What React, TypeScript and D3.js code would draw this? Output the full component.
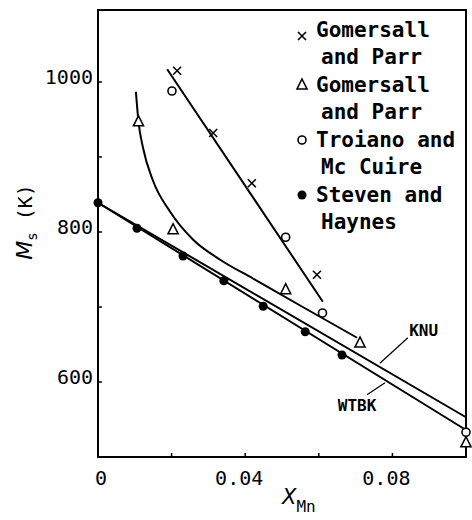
import React, { useEffect, useRef } from 'react';
import * as d3 from 'd3';

// Gomersall and Parr (crosses)
const crossX = [0.0215, 0.0313, 0.0418, 0.0595];
const crossY = [1015, 932, 865, 743];
// Gomersall and Parr (triangles)
const triX = [0.011, 0.0204, 0.051, 0.0712, 0.1];
const triY = [947, 803, 723, 652, 519];
// Troiano and Mc Cuire
const circX = [0.0201, 0.051, 0.061, 0.1];
const circY = [988, 793, 692, 533];
// Steven and Haynes
const dotX = [0, 0.0106, 0.0231, 0.0342, 0.0449, 0.0563, 0.0663];
const dotY = [839, 805, 768, 735, 701, 667, 636];

// fitted lines
const steepX = [0.0188, 0.0611];
const steepY = [1017, 707];
const curveX = [0.0103, 0.011, 0.0122, 0.0149, 0.0196, 0.0258, 0.0332, 0.0421, 0.056, 0.0704];
const curveY = [987, 947, 913, 869, 827, 790, 763, 738, 699, 659];
const knuX = [0, 0.1];
const knuY = [839, 553];
const wtbkX = [0, 0.1];
const wtbkY = [839, 536];

const xTicks = [0.02, 0.04, 0.06, 0.08];
const xLabels = ['0', '0.04', '0.08'];
const yTicks = [600, 700, 800, 900, 1000];
const yLabels = ['600', '800', '1000'];

const legendSymbols = ['cross', 'tri', 'circ', 'dot'];
const legendLines = [
  ['Gomersall', 'and Parr'],
  ['Gomersall', 'and Parr'],
  ['Troiano and', 'Mc Cuire'],
  ['Steven and', 'Haynes'],
];

const zip = (xs: number[], ys: number[]) => xs.map((x, i) => [x, ys[i]] as [number, number]);

export default function App() {
  const svgRef = useRef<SVGSVGElement>(null);

  useEffect(() => {
    const svg = d3.select(svgRef.current);
    svg.selectAll('*').remove();

    const left = 98, right = 466, top = 10, bottom = 457;
    const x = d3.scaleLinear().domain([0, 0.1]).range([left, right]);
    const y = d3.scaleLinear().domain([500, 1096]).range([bottom, top]);

    const mono = "'DejaVu Sans Mono', monospace";

    // frame
    svg.append('rect')
      .attr('x', left).attr('y', top)
      .attr('width', right - left).attr('height', bottom - top)
      .attr('fill', 'none').attr('stroke', '#000').attr('stroke-width', 2);

    // inward ticks
    svg.selectAll('.xt').data(xTicks).join('line')
      .attr('x1', d => x(d)).attr('x2', d => x(d))
      .attr('y1', bottom).attr('y2', bottom - 4)
      .attr('stroke', '#000').attr('stroke-width', 1.5);
    svg.selectAll('.yt').data(yTicks).join('line')
      .attr('x1', left).attr('x2', left + 4)
      .attr('y1', d => y(d)).attr('y2', d => y(d))
      .attr('stroke', '#000').attr('stroke-width', 1.5);

    svg.selectAll('.xl').data(xLabels).join('text')
      .attr('x', d => x(+d) + (d === '0' ? 3 : -6))
      .attr('y', 485)
      .attr('text-anchor', 'middle')
      .attr('font-family', mono).attr('font-size', 20)
      .text(d => d);
    svg.selectAll('.yl').data(yLabels).join('text')
      .attr('x', 93)
      .attr('y', d => y(+d) + 2)
      .attr('text-anchor', 'end')
      .attr('font-family', mono).attr('font-size', 20)
      .text(d => d);

    // axis titles
    const yt = svg.append('text')
      .attr('transform', 'translate(32,222) rotate(-90)')
      .attr('text-anchor', 'middle')
      .attr('font-family', mono).attr('font-size', 20);
    yt.append('tspan').attr('font-style', 'italic').attr('font-size', 22).attr('font-family', "'DejaVu Sans', sans-serif").text('M');
    yt.append('tspan').attr('font-size', 14).attr('dy', 5).text('s');
    yt.append('tspan').attr('dy', -5).text(' (K)');

    const xt = svg.append('text')
      .attr('x', 282).attr('y', 504)
      .attr('font-family', mono).attr('font-size', 21);
    xt.append('tspan').attr('font-style', 'italic').attr('font-family', "'DejaVu Sans', sans-serif").text('X');
    xt.append('tspan').attr('font-size', 16).attr('dy', 8).text('Mn');

    const line = d3.line<[number, number]>().x(d => x(d[0])).y(d => y(d[1]));
    const drawLine = (pts: [number, number][], gen = line) =>
      svg.append('path').attr('d', gen(pts)).attr('fill', 'none')
        .attr('stroke', '#000').attr('stroke-width', 2);

    drawLine(zip(steepX, steepY));
    drawLine(zip(curveX, curveY), d3.line<[number, number]>().x(d => x(d[0])).y(d => y(d[1])).curve(d3.curveMonotoneX));
    drawLine(zip(knuX, knuY));
    drawLine(zip(wtbkX, wtbkY));

    // leader lines and labels
    const knuLeader: [number, number][] = [[0.0842, 659], [0.0766, 625]];
    const wtbkLeader: [number, number][] = [[0.0731, 583], [0.078, 599]];
    svg.append('path').attr('d', line(knuLeader)).attr('stroke', '#000').attr('stroke-width', 1.2);
    svg.append('path').attr('d', line(wtbkLeader)).attr('stroke', '#000').attr('stroke-width', 1.2);
    svg.append('text').attr('x', x(0.0885)).attr('y', y(669) + 6)
      .attr('text-anchor', 'middle').attr('font-family', mono).attr('font-weight', 'bold')
      .attr('font-size', 16).text('KNU');
    svg.append('text').attr('x', x(0.0704)).attr('y', y(569) + 6)
      .attr('text-anchor', 'middle').attr('font-family', mono).attr('font-weight', 'bold')
      .attr('font-size', 16).text('WTBK');

    // markers
    const drawSym = (g: any, kind: string, cx: number, cy: number) => {
      if (kind === 'cross') {
        g.append('path').attr('d', `M${cx - 4},${cy - 4}L${cx + 4},${cy + 4}M${cx - 4},${cy + 4}L${cx + 4},${cy - 4}`)
          .attr('stroke', '#000').attr('stroke-width', 1.6);
      } else if (kind === 'tri') {
        g.append('path').attr('d', `M${cx},${cy - 6}L${cx + 5},${cy + 4}L${cx - 5},${cy + 4}Z`)
          .attr('fill', '#fff').attr('stroke', '#000').attr('stroke-width', 1.6);
      } else if (kind === 'circ') {
        g.append('circle').attr('cx', cx).attr('cy', cy).attr('r', 4)
          .attr('fill', '#fff').attr('stroke', '#000').attr('stroke-width', 1.6);
      } else {
        g.append('circle').attr('cx', cx).attr('cy', cy).attr('r', 4.5).attr('fill', '#000');
      }
    };
    const marks = svg.append('g');
    zip(crossX, crossY).forEach(d => drawSym(marks, 'cross', x(d[0]), y(d[1])));
    zip(triX, triY).forEach(d => drawSym(marks, 'tri', x(d[0]), y(d[1])));
    zip(circX, circY).forEach(d => drawSym(marks, 'circ', x(d[0]), y(d[1])));
    zip(dotX, dotY).forEach(d => drawSym(marks, 'dot', x(d[0]), y(d[1])));

    // legend
    const leg = svg.append('g');
    legendSymbols.forEach((s, i) => {
      const ly = 30 + i * 55;
      drawSym(leg, s, 302, ly + (s === 'cross' ? 6 : 0));
      leg.append('text').attr('x', 316).attr('y', ly + 7)
        .attr('font-family', mono).attr('font-weight', 'bold').attr('font-size', 21)
        .text(legendLines[i][0]);
      leg.append('text').attr('x', 321).attr('y', ly + 34)
        .attr('font-family', mono).attr('font-weight', 'bold').attr('font-size', 21)
        .text(legendLines[i][1]);
    });
  }, []);

  return (
    <div style={{ position: 'absolute', left: 0, top: 0 }}>
      <svg ref={svgRef} width={472} height={520} style={{ display: 'block', background: '#fff' }} />
    </div>
  );
}
